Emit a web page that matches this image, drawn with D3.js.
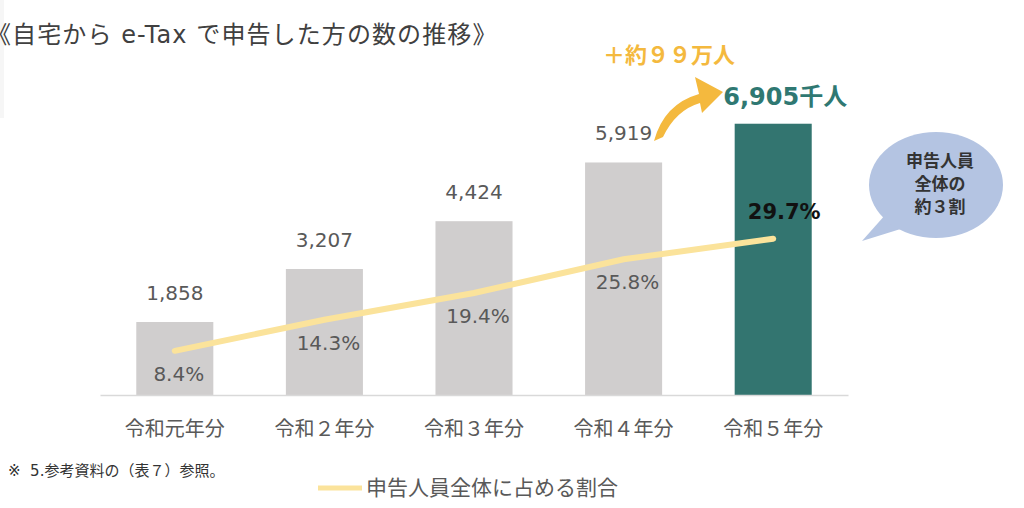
<!DOCTYPE html>
<html lang="ja">
<head>
<meta charset="utf-8">
<title>自宅から e-Tax で申告した方の数の推移</title>
<script src="https://d3js.org/d3.v7.min.js"></script>
<style>
  body { margin: 0; background: #fff; }
  svg { display: block; }
  text { font-family: "DejaVu Sans", "Noto Sans CJK JP", sans-serif; }
  .cat { font-size: 20px; fill: #595959; }
  .val { font-size: 20px; fill: #595959; }
  .pct { font-size: 20px; fill: #595959; }
</style>
</head>
<body>
<script>
// data (千人 / %)
const categories = ["令和元年分", "令和２年分", "令和３年分", "令和４年分", "令和５年分"];
const filers = [1858, 3207, 4424, 5919, 6905];
const shares = [8.4, 14.3, 19.4, 25.8, 29.7];
const valueLabels = ["1,858", "3,207", "4,424", "5,919", "6,905千人"];
const shareLabels = ["8.4%", "14.3%", "19.4%", "25.8%", "29.7%"];

const w = 1024, h = 508;
const base = 395;

const svg = d3.select("body").append("svg")
  .attr("width", w)
  .attr("height", h);

// faint page edge at left
svg.append("rect")
  .attr("x", 0).attr("y", 0)
  .attr("width", 4).attr("height", 118)
  .attr("fill", "#f6f6f6");

// title (its left bracket runs off the page, as in the source)
svg.append("text")
  .attr("x", -13).attr("y", 43)
  .attr("font-size", 24)
  .attr("letter-spacing", 1.1)
  .attr("fill", "#404040")
  .text("《自宅から e-Tax で申告した方の数の推移》");

// scales
const x = d3.scaleBand()
  .domain(categories)
  .range([100, 848])
  .paddingInner(0.485)
  .paddingOuter(0.2425);

const y = d3.scaleLinear().domain([0, 7000]).range([base, 120]);
const yPct = d3.scaleLinear().domain([0, 50]).range([base, 132]);

const cx = i => x(categories[i]) + x.bandwidth() / 2;

// bars
svg.selectAll(".bar")
  .data(filers)
  .join("rect")
  .attr("class", "bar")
  .attr("x", (d, i) => x(categories[i]))
  .attr("y", d => y(d))
  .attr("width", x.bandwidth())
  .attr("height", d => base - y(d))
  .attr("fill", (d, i) => i === filers.length - 1 ? "#337570" : "#D0CECE");

// x axis
const xAxis = svg.append("g")
  .attr("transform", "translate(0," + base + ")")
  .call(d3.axisBottom(x).tickSize(0).tickPadding(27));
xAxis.select(".domain").attr("stroke", "#d9d9d9").attr("stroke-width", 1.5);
xAxis.selectAll("text")
  .attr("class", "cat")
  .attr("font-family", null)
  .attr("font-size", null)
  .attr("fill", "#595959");

// value labels (the last one is drawn as the highlight)
svg.selectAll(".val")
  .data(filers.slice(0, 4))
  .join("text")
  .attr("class", "val")
  .attr("x", (d, i) => cx(i))
  .attr("y", d => y(d) - 22)
  .attr("text-anchor", "middle")
  .text((d, i) => valueLabels[i]);

svg.append("text")
  .attr("x", cx(4) + 12)
  .attr("y", y(filers[4]) - 19)
  .attr("text-anchor", "middle")
  .attr("font-size", 24)
  .attr("font-weight", "bold")
  .attr("fill", "#2F7872")
  .text(valueLabels[4]);

// increase note
svg.append("text")
  .attr("x", 603).attr("y", 63)
  .attr("font-size", 22)
  .attr("font-weight", "bold")
  .attr("fill", "#F4B93E")
  .text("＋約９９万人");

// curved arrow
svg.append("path")
  .attr("d", "M654,141 Q664,104 699,94 L695,77 L723,92 L702,113 L700,103 Q676,110 663,137 Z")
  .attr("fill", "#F4B93E");

// share line
const line = d3.line()
  .x((d, i) => cx(i))
  .y(d => yPct(d));

svg.append("path")
  .attr("d", line(shares))
  .attr("fill", "none")
  .attr("stroke", "#FBE39B")
  .attr("stroke-width", 6)
  .attr("stroke-linecap", "round");

// share labels
svg.selectAll(".pct")
  .data(shares.slice(0, 4))
  .join("text")
  .attr("class", "pct")
  .attr("x", (d, i) => cx(i) + 4)
  .attr("y", d => yPct(d) + 30)
  .attr("text-anchor", "middle")
  .text((d, i) => shareLabels[i]);

svg.append("text")
  .attr("x", cx(4) + 11)
  .attr("y", yPct(shares[4]) - 20)
  .attr("text-anchor", "middle")
  .attr("font-size", 21)
  .attr("font-weight", "bold")
  .attr("fill", "#111")
  .text(shareLabels[4]);

// speech bubble
const bubble = svg.append("g");
bubble.append("path")
  .attr("d", "M886,214 L862,241 L907,227 Z")
  .attr("fill", "#B4C4E2");
bubble.append("ellipse")
  .attr("cx", 936).attr("cy", 185)
  .attr("rx", 67).attr("ry", 53)
  .attr("fill", "#B4C4E2");
["申告人員", "全体の", "約３割"].forEach((t, i) => {
  bubble.append("text")
    .attr("x", 940).attr("y", 167 + i * 23)
    .attr("text-anchor", "middle")
    .attr("font-size", 17)
    .attr("font-weight", "bold")
    .attr("fill", "#333")
    .text(t);
});

// footnote
svg.append("text")
  .attr("x", 8).attr("y", 476)
  .attr("font-size", 15)
  .attr("fill", "#333")
  .text("※ \u00a05.参考資料の（表７）参照。");

// legend
svg.append("line")
  .attr("x1", 318).attr("x2", 362)
  .attr("y1", 488).attr("y2", 488)
  .attr("stroke", "#FBE39B")
  .attr("stroke-width", 5);
svg.append("text")
  .attr("x", 366).attr("y", 495)
  .attr("font-size", 21)
  .attr("fill", "#595959")
  .text("申告人員全体に占める割合");
</script>
</body>
</html>
